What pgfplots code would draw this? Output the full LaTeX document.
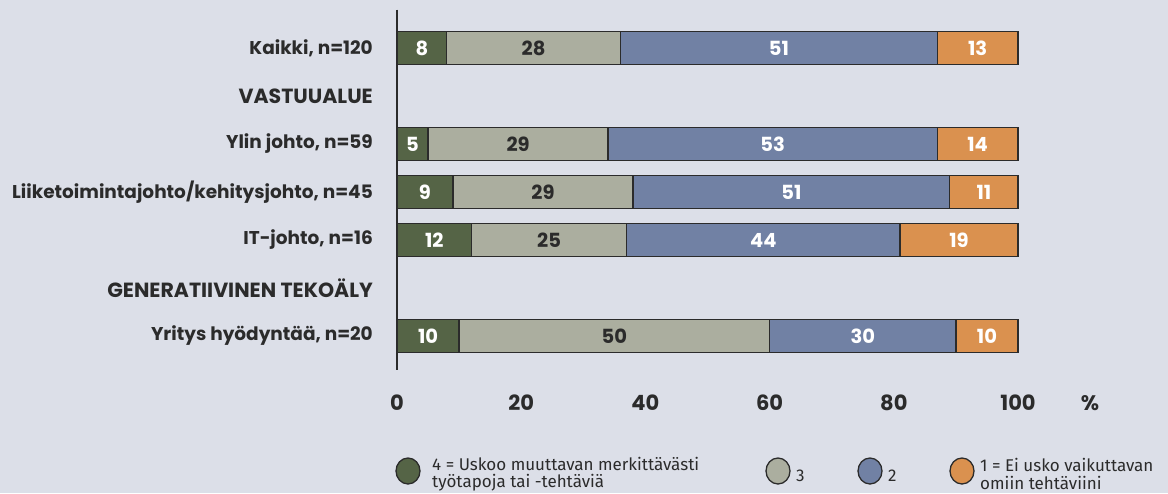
\documentclass[border=0pt]{standalone}
\usepackage{pgfplots}
\pgfplotsset{compat=1.18}
\usepackage{fontspec}
\setmainfont{Poppins}
\newfontfamily\legfont{Fira Sans}
\definecolor{bg}{HTML}{DCDFE8}
\definecolor{cA}{HTML}{556446}
\definecolor{cB}{HTML}{ABAE9F}
\definecolor{cC}{HTML}{7181A4}
\definecolor{cD}{HTML}{DA914F}
\definecolor{edge}{HTML}{2B2B2B}
\definecolor{txt}{HTML}{2B2B2B}
\newcommand{\hd}[1]{{\fontsize{20.5}{22}\selectfont #1}}
\begin{document}
\begin{tikzpicture}[x=1pt,y=1pt]
\fill[bg] (0,0) rectangle (1168,-493);
\useasboundingbox (0,0) rectangle (1168,-493);
\pgfplotsset{
  base/.style={
    at={(397pt,-9.6pt)}, anchor=north west,
    width=621pt, height=360pt, scale only axis,
    xmin=0, xmax=100, ymin=-0.8, ymax=6.7, y dir=reverse,
    axis line style={draw=none}, major tick length=0pt,
    clip=false,
  }
}
\begin{axis}[base,
  xbar stacked, bar width=33pt,
  xtick={0,20,40,60,80,100},
  xticklabel style={anchor=center, yshift=-33pt, inner sep=0pt, font=\fontsize{21}{22}\selectfont\bfseries, text=txt},
  ytick={0,1,2,3,4,5,6},
  yticklabels={Kaikki{,} n=120, \hd{VASTUUALUE}, Ylin johto{,} n=59, Liiketoimintajohto/kehitysjohto{,} n=45, IT-johto{,} n=16, \hd{GENERATIIVINEN TEKOÄLY}, Yritys hyödyntää{,} n=20},
  yticklabel style={anchor=east, xshift=-24pt, inner sep=0pt, font=\fontsize{18.5}{20}\selectfont\bfseries, text=txt},
  /pgf/number format/assume math mode=true,
]
\addplot[fill=cA, draw=edge, line width=1.3pt] coordinates {(8,0) (5,2) (9,3) (12,4) (10,6)};
\addplot[fill=cB, draw=edge, line width=1.3pt] coordinates {(28,0) (29,2) (29,3) (25,4) (50,6)};
\addplot[fill=cC, draw=edge, line width=1.3pt] coordinates {(51,0) (53,2) (51,3) (44,4) (30,6)};
\addplot[fill=cD, draw=edge, line width=1.3pt] coordinates {(13,0) (13,2) (11,3) (19,4) (10,6)};
\draw[edge, line width=1.3pt] (axis cs:0,-0.8) -- (axis cs:0,6.7);
\node[anchor=center, yshift=-33pt, inner sep=0pt, font=\fontsize{21}{22}\selectfont\bfseries, text=txt] at (axis cs:111.6,6.7) {\%};
\end{axis}
\begin{axis}[base, hide axis,
  nodes near coords, point meta=explicit symbolic,
  every node near coord/.append style={anchor=center, inner sep=0pt, yshift=0pt, font=\fontsize{19.5}{20}\selectfont\bfseries},
]
\addplot[draw=none, mark=none, every node near coord/.append style={text=white}] coordinates {(4,0)[8] (2.5,2)[5] (4.5,3)[9] (6,4)[12] (5,6)[10]};
\addplot[draw=none, mark=none, every node near coord/.append style={text=txt}] coordinates {(22,0)[28] (19.5,2)[29] (23.5,3)[29] (24.5,4)[25] (35,6)[50]};
\addplot[draw=none, mark=none, every node near coord/.append style={text=white}] coordinates {(61.5,0)[51] (60.5,2)[53] (63.5,3)[51] (59,4)[44] (75,6)[30]};
\addplot[draw=none, mark=none, every node near coord/.append style={text=white}] coordinates {(93.5,0)[13] (93.5,2)[14] (94.5,3)[11] (90.5,4)[19] (95,6)[10]};
\end{axis}
% legend
\begin{scope}[line width=1.3pt]
\filldraw[fill=cA, draw=edge] (408,-471) ellipse (12 and 13);
\filldraw[fill=cB, draw=edge] (778,-471) ellipse (12 and 13);
\filldraw[fill=cC, draw=edge] (870,-471) ellipse (12 and 13);
\filldraw[fill=cD, draw=edge] (962,-471) ellipse (12 and 13);
\end{scope}
\node[anchor=west, inner sep=0pt, align=left, font=\legfont\fontsize{17}{17.5}\selectfont, text=txt] at (432,-474) {4 = Uskoo muuttavan merkittävästi\\työtapoja tai -tehtäviä};
\node[anchor=west, inner sep=0pt, font=\legfont\fontsize{17}{17.5}\selectfont, text=txt] at (796,-476) {3};
\node[anchor=west, inner sep=0pt, font=\legfont\fontsize{17}{17.5}\selectfont, text=txt] at (888,-476) {2};
\node[anchor=west, inner sep=0pt, align=left, font=\legfont\fontsize{17}{17.5}\selectfont, text=txt] at (980,-474) {1 = Ei usko vaikuttavan\\omiin tehtäviini};
\end{tikzpicture}
\end{document}
